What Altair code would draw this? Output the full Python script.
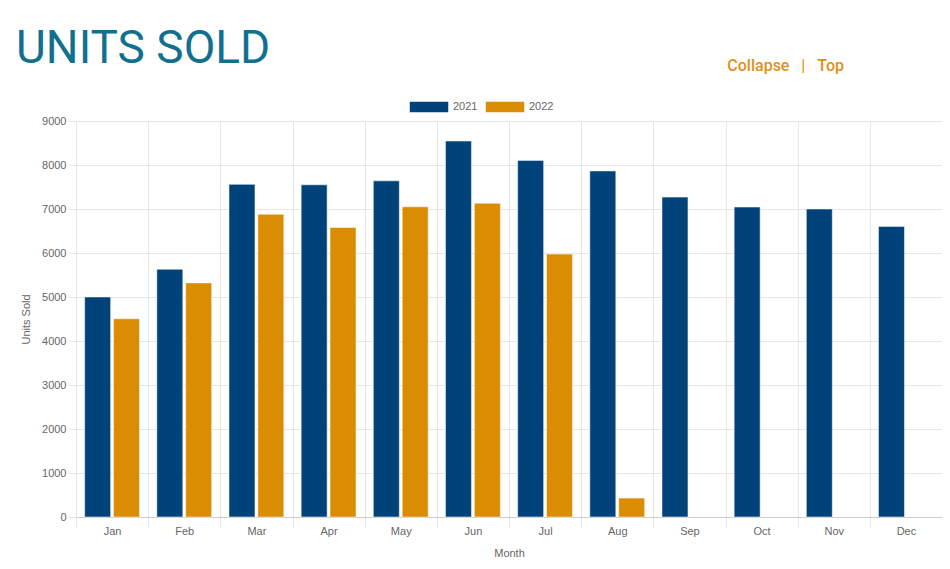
import altair as alt
import pandas as pd

MONTHS = ["Jan", "Feb", "Mar", "Apr", "May", "Jun", "Jul", "Aug", "Sep", "Oct", "Nov", "Dec"]
UNITS_2021 = [5000, 5630, 7560, 7550, 7640, 8545, 8105, 7865, 7270, 7045, 7000, 6605]
UNITS_2022 = [4505, 5320, 6880, 6580, 7050, 7130, 5975, 430]
YEARS = ["2021", "2022"]
COLORS = ["#00437A", "#DA8C02"]
Y_TICKS = [0, 1000, 2000, 3000, 4000, 5000, 6000, 7000, 8000, 9000]

HEADING = "UNITS SOLD"
# non-breaking spaces so the gaps round the bar survive in the SVG
LINKS = "Collapse\u00a0\u00a0\u00a0|\u00a0\u00a0\u00a0Top"

BASE_FONT = "Liberation Sans"
HEAD_FONT = "Roboto"
GREY = "#666666"

rows = []
for m, v in zip(MONTHS, UNITS_2021):
    rows.append({"Month": m, "Year": YEARS[0], "Units": v})
for m, v in zip(MONTHS, UNITS_2022):
    rows.append({"Month": m, "Year": YEARS[1], "Units": v})
df = pd.DataFrame(rows)

bars = (
    alt.Chart(df)
    .mark_bar(stroke="#ffffff", strokeWidth=1, strokeOpacity=0.5)
    .encode(
        x=alt.X(
            "Month:N",
            sort=MONTHS,
            title="Month",
            scale=alt.Scale(paddingInner=0, paddingOuter=0),
            axis=alt.Axis(
                labelAngle=0,
                tickBand="extent",
                tickSize=10,
                labelPadding=-2,
                titlePadding=11,
                grid=True,
            ),
        ),
        xOffset=alt.XOffset(
            "Year:N",
            scale=alt.Scale(domain=YEARS, paddingInner=0.1, paddingOuter=0.3),
        ),
        y=alt.Y(
            "Units:Q",
            title="Units Sold",
            scale=alt.Scale(domain=[0, 9000], nice=False),
            axis=alt.Axis(values=Y_TICKS, format="d", tickSize=8, labelPadding=2, titlePadding=10),
        ),
        color=alt.Color(
            "Year:N",
            scale=alt.Scale(domain=YEARS, range=COLORS),
            legend=alt.Legend(
                title=None,
                orient="none",
                direction="horizontal",
                legendX=332,
                legendY=-35,
                symbolType="M-1,-0.3H1V0.3H-1Z",
                symbolSize=1600,
                symbolOpacity=1,
                labelOffset=3,
                columnPadding=4,
            ),
        ),
        tooltip=["Month:N", "Year:N", "Units:Q"],
    )
)

heading = (
    alt.Chart(pd.DataFrame({"text": [HEADING]}))
    .mark_text(
        font=HEAD_FONT,
        fontSize=46,
        color="#12708F",
        align="left",
        baseline="alphabetic",
    )
    .encode(text="text:N", x=alt.value(-60), y=alt.value(-58))
)

links = (
    alt.Chart(pd.DataFrame({"text": [LINKS]}))
    .mark_text(
        font=HEAD_FONT,
        fontSize=16,
        fontWeight=500,
        color="#E0901A",
        align="right",
        baseline="alphabetic",
    )
    .encode(text="text:N", x=alt.value(768), y=alt.value(-50))
)

chart = (
    alt.layer(bars, heading, links)
    .properties(
        width=866,
        height=396,
        autosize=alt.AutoSizeParams(type="none"),
        padding={"left": 68, "top": 113, "right": 0, "bottom": 42},
        background="#ffffff",
    )
    .configure_view(stroke=None)
    .configure_axis(
        labelFont=BASE_FONT,
        titleFont=BASE_FONT,
        labelFontSize=11,
        titleFontSize=11,
        labelColor=GREY,
        titleColor=GREY,
        titleFontWeight="normal",
        gridColor="#e6e6e6",
        tickColor="#e6e6e6",
        domainColor="#e6e6e6",
    )
    .configure_axisX(domainColor="#cccccc")
    .configure_legend(labelFont=BASE_FONT, labelFontSize=11, labelColor=GREY)
)

chart.save("out.html", embed_options={"renderer": "svg", "actions": False})
